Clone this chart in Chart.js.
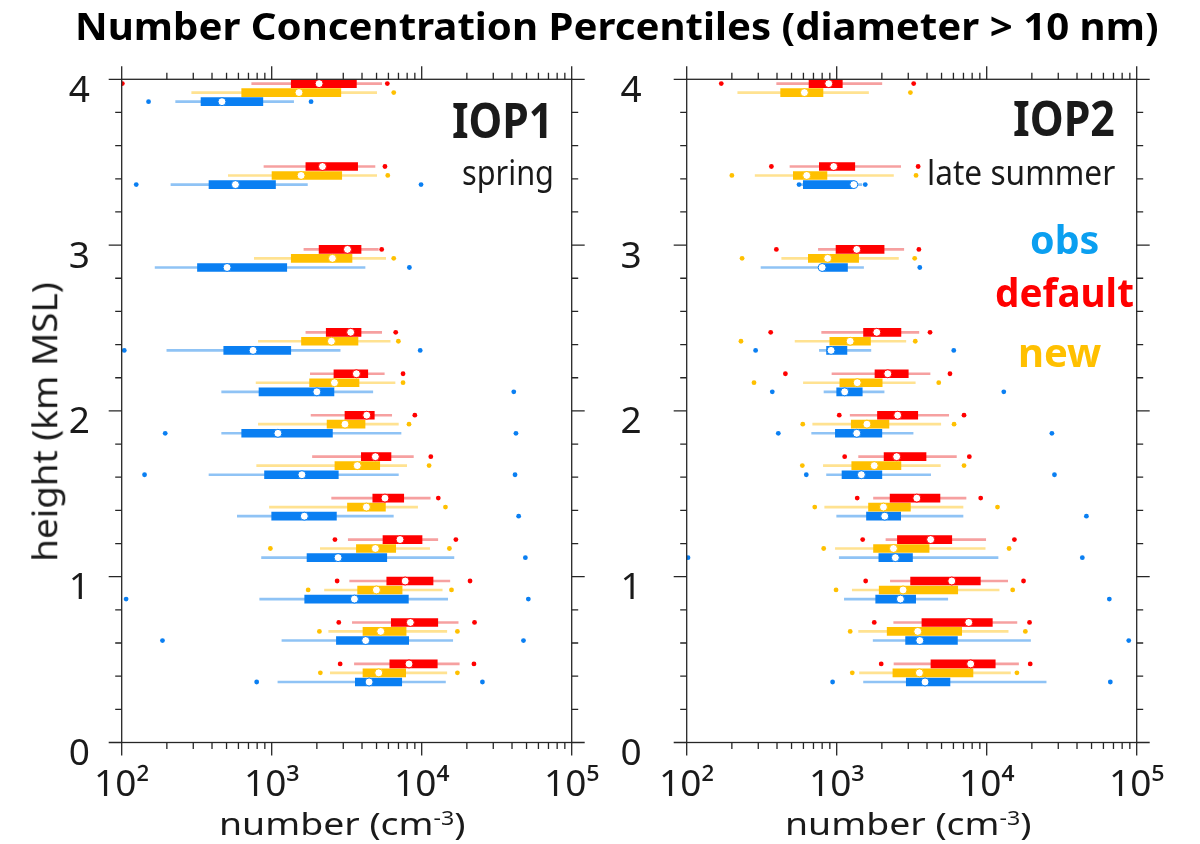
<!DOCTYPE html>
<html>
<head>
<meta charset="utf-8">
<script src="https://cdn.jsdelivr.net/npm/chart.js@4.4.1/dist/chart.umd.min.js"></script>
<style>
  body { margin: 0; background: #fff; width: 1200px; height: 844px; position: relative; overflow: hidden; font-family: "Noto Sans", sans-serif; color: #1a1a1a; }
  canvas { position: absolute; top: 0; }
  .lbl { position: absolute; white-space: nowrap; line-height: 1; transform-origin: 0 0; }
  .lbl sup { font-size: 0.62em; vertical-align: baseline; position: relative; top: -0.55em; }
</style>
</head>
<body>
<canvas id="iop1" width="600" height="844" style="left:0"></canvas>
<canvas id="iop2" width="600" height="844" style="left:600px"></canvas>
<script>
// height levels (km MSL), bottom to top
const levels = [0.42, 0.67, 0.92, 1.17, 1.42, 1.67, 1.92, 2.17, 2.42, 2.92, 3.42, 3.92];

// each row: [low dot, whisker lo, box lo, median, box hi, whisker hi, high dot]  (cm^-3)
const iop1Default = [
  [2860, 3560, 6130, 8230, 12700, 17800, 22300],
  [2800, 3450, 6270, 8400, 12800, 17500, 22500],
  [2730, 3310, 5850, 7760, 11900, 15400, 21000],
  [2640, 3240, 5520, 7170, 10050, 12800, 16900],
  [null, 2510, 4720, 5690, 7590, 11400, 12900],
  [null, 1870, 3960, 4910, 6240, 8800, 11500],
  [null, 1830, 3080, 4300, 4830, 6310, 9000],
  [null, 1810, 2600, 3670, 4370, 5630, 7510],
  [null, 1690, 2310, 3360, 3940, 5410, 6710],
  [null, 1640, 2070, 3200, 3940, 5140, 5410],
  [null, 888, 1690, 2180, 3740, 4880, 5690],
  [101, 736, 1350, 2070, 3670, 5410, 5900]
];
const iop1New = [
  [2110, 2460, 4060, 5170, 7820, 14700, 17300],
  [2080, 2400, 4060, 5330, 7870, 14700, 17300],
  [1750, 2250, 3740, 4990, 7400, 13700, 15800],
  [980, 2110, 3670, 4910, 6710, 11300, 15300],
  [null, 966, 3200, 4280, 5730, 9390, 14400],
  [null, 794, 2640, 3720, 5250, 7940, 11200],
  [null, 815, 2340, 3080, 4190, 6990, 8230],
  [null, 787, 1790, 2620, 3820, 6640, 7510],
  [null, 815, 1580, 2500, 3760, 6160, 6990],
  [null, 766, 1350, 2540, 3430, 5750, 6510],
  [null, 514, 1005, 1570, 2930, 5010, 5940],
  [null, 293, 631, 1520, 2890, 5010, 6510]
];
const iop1Obs = [
  [794, 1100, 3610, 4460, 7360, 14400, 25400],
  [187, 1170, 2700, 4230, 8190, 16100, 47700],
  [107, 832, 1660, 3560, 8150, 14900, 51400],
  [null, 856, 1720, 2770, 5850, 16400, 49100],
  [null, 590, 1000, 1650, 2700, 6470, 44300],
  [142, 382, 896, 1590, 2780, 6990, 41900],
  [195, 464, 631, 1100, 2540, 7280, 42500],
  [null, 464, 823, 2000, 2600, 4720, 41100],
  [104, 200, 479, 751, 1340, 2860, 9770],
  [null, 167, 320, 504, 1260, 4190, 8280],
  [125, 213, 382, 573, 1060, 1730, 9900],
  [151, 229, 338, 466, 873, 1400, 1830]
];
const iop2Default = [
  [1980, 2410, 4250, 7820, 11400, 16300, 19500],
  [1780, 2400, 3700, 7590, 10900, 15900, 19300],
  [1560, 2280, 3110, 5850, 9070, 13800, 17600],
  [1490, 2130, 2540, 4230, 5850, 9850, 15300],
  [1370, 1760, 2270, 3420, 4880, 7280, 9120],
  [1130, 1400, 2070, 2510, 3940, 6280, 7660],
  [1040, 1230, 1870, 2550, 3470, 5580, 7060],
  [455, 930, 1800, 2190, 3000, 4190, 5690],
  [363, 794, 1510, 1850, 2680, 3530, 4190],
  [396, 755, 990, 1360, 2070, 2800, 3530],
  [367, 488, 766, 955, 1320, 2670, 3490],
  [170, 398, 654, 885, 1090, 2000, 3260]
];
const iop2New = [
  [1270, 1420, 2370, 3560, 8100, 14400, 15900],
  [1230, 1400, 2170, 3470, 6810, 13900, 18100],
  [990, 1270, 1920, 2770, 6410, 12100, 14900],
  [819, 980, 1760, 2390, 4130, 9770, 14100],
  [714, 832, 1630, 2050, 3100, 6950, 11800],
  [590, 815, 1260, 1780, 2680, 4910, 7060],
  [594, 692, 1250, 1590, 2230, 4940, 6060],
  [281, 600, 1050, 1370, 2010, 3340, 4790],
  [230, 528, 900, 1230, 1680, 2890, 3340],
  [234, 430, 647, 871, 1400, 2580, 3310],
  [200, 286, 514, 631, 861, 2390, 3380],
  [null, 219, 423, 609, 810, 1630, 3100]
];
const iop2Obs = [
  [939, 1510, 2910, 3880, 5690, 24900, 66700],
  [null, 1750, 2880, 3580, 6380, 19600, 88500],
  [null, 1125, 1820, 2660, 3360, 5500, 65700],
  [102, 1040, 1910, 2460, 3200, 11900, 43400],
  [null, 1000, 1580, 2090, 2670, 6950, 46200],
  [627, 856, 1085, 1460, 2000, 4230, 28300],
  [408, 681, 980, 1360, 2000, 3230, 27200],
  [372, 823, 1000, 1130, 1480, 2070, 13000],
  [288, 766, 856, 917, 1170, 1690, 6030],
  [null, 313, 794, 800, 1180, 1510, 3580],
  [561, 572, 599, 1300, 1300, 1470, 1550],
  [null, null, null, null, null, null, null]
];

const xTickValues = [1e2, 1e3, 1e4, 1e5];
const xTickLabels = ['10²', '10³', '10⁴', '10⁵'];
const yTickValues = [0, 1, 2, 3, 4];

// drawing style per series (red on top, blue at the bottom of each level)
const styles = [
  { shift: 0.054, color: '#ff0000', pale: '#f6a0a0' },
  { shift: 0, color: '#ffc000', pale: '#ffe291' },
  { shift: -0.055, color: '#0a7ff2', pale: '#8fc3f5' }
];

Chart.defaults.font.family = '"Noto Sans", sans-serif';
Chart.defaults.color = '#1a1a1a';

function buildDatasets(seriesRows) {
  const out = [];
  seriesRows.forEach((rows, si) => {
    const s = styles[si];
    const pts = col => rows.map((r, i) => r[col] == null ? null : { x: r[col], y: levels[i] + s.shift }).filter(Boolean);
    const bars = (a, b) => rows.map((r, i) => r[a] == null ? null : { x: [r[a], r[b]], y: levels[i] + s.shift }).filter(Boolean);
    out.push({ type: 'bar', indexAxis: 'y', grouped: false, data: bars(1, 5), backgroundColor: s.pale, barThickness: 2, order: 4 });
    out.push({ type: 'bar', indexAxis: 'y', grouped: false, data: bars(2, 4), backgroundColor: s.color, barThickness: 8, order: 3 });
    out.push({ type: 'scatter', data: pts(0).concat(pts(6)), pointRadius: 2.4, backgroundColor: s.color, borderWidth: 0, order: 2 });
    out.push({ type: 'scatter', data: pts(3), pointRadius: 4, backgroundColor: '#ffffff', borderColor: s.color, borderWidth: 1, order: 1 });
  });
  return out;
}

// box frame with outward ticks on all four sides
const frameTicks = {
  id: 'frameTicks',
  afterDraw(chart) {
    const { ctx, chartArea: a, scales: { x, y } } = chart;
    ctx.save();
    ctx.strokeStyle = '#262626';
    ctx.lineWidth = 1.3;
    ctx.strokeRect(a.left, a.top, a.right - a.left, a.bottom - a.top);
    ctx.beginPath();
    for (let e = 2; e < 5; e++) {
      for (let m = 1; m <= 10; m++) {
        const px = x.getPixelForValue(m * Math.pow(10, e));
        const len = (m === 1 || m === 10) ? 13 : 6.5;
        ctx.moveTo(px, a.bottom); ctx.lineTo(px, a.bottom + len);
        ctx.moveTo(px, a.top); ctx.lineTo(px, a.top - len);
      }
    }
    for (let k = 0; k <= 20; k++) {
      const py = y.getPixelForValue(k / 5);
      const len = k % 5 === 0 ? 13 : 6.5;
      ctx.moveTo(a.left, py); ctx.lineTo(a.left - len, py);
      ctx.moveTo(a.right, py); ctx.lineTo(a.right + len, py);
    }
    ctx.stroke();
    ctx.restore();
  }
};

function makePanel(id, seriesRows, geom) {
  new Chart(document.getElementById(id), {
    type: 'scatter',
    data: { datasets: buildDatasets(seriesRows) },
    options: {
      responsive: false,
      animation: false,
      layout: { padding: { top: 79.3, right: 600 - geom.right, left: 0, bottom: 0 } },
      plugins: { legend: { display: false }, tooltip: { enabled: false } },
      scales: {
        x: {
          type: 'logarithmic', min: 100, max: 100000, offset: false,
          afterBuildTicks: s => { s.ticks = xTickValues.map(v => ({ value: v })); },
          afterFit: s => { s.height = 844 - 742.5; s.paddingLeft = 0; s.paddingRight = 0; },
          grid: { display: false, drawTicks: false, offset: false },
          border: { display: false },
          ticks: { font: { size: 37 }, padding: 21, maxRotation: 0, autoSkip: false,
                   callback: (v, i) => xTickLabels[i] }
        },
        y: {
          type: 'linear', min: 0, max: 4, offset: false,
          afterBuildTicks: s => { s.ticks = yTickValues.map(v => ({ value: v })); },
          afterFit: s => { s.width = geom.left; s.paddingTop = 0; s.paddingBottom = 0; },
          grid: { display: false, drawTicks: false, offset: false },
          border: { display: false },
          ticks: { font: { size: 37 }, padding: geom.labelGap, labelOffset: 12, autoSkip: false }
        }
      }
    },
    plugins: [frameTicks]
  });
}

makePanel('iop1', [iop1Default, iop1New, iop1Obs], { left: 121.7, right: 571.7, labelGap: 31.7 });
makePanel('iop2', [iop2Default, iop2New, iop2Obs], { left: 86.7, right: 536.7, labelGap: 45 });

// text placed by baseline, stretched to the measured width
const texts = [
  { html: 'Number Concentration Percentiles (diameter &gt; 10 nm)', left: 75, right: 1158, base: 40, size: 37, bold: true, color: '#000' },
  { html: 'IOP1', left: 452, right: 553, base: 138.3, size: 49, bold: true },
  { html: 'spring', left: 462, right: 554, base: 185, size: 34 },
  { html: 'IOP2', left: 1013, right: 1115, base: 136.7, size: 48, bold: true },
  { html: 'late summer', left: 927, right: 1115, base: 185, size: 34 },
  { html: 'obs', left: 1030, right: 1099, base: 255, size: 40, bold: true, color: '#0b9ff0' },
  { html: 'default', left: 995, right: 1134, base: 308, size: 40, bold: true, color: '#ff0000' },
  { html: 'new', left: 1018, right: 1101, base: 368, size: 40, bold: true, color: '#ffc000' },
  { html: 'number (cm<sup>-3</sup>)', left: 219, right: 465, base: 836, size: 31 },
  { html: 'number (cm<sup>-3</sup>)', left: 785, right: 1031, base: 836, size: 31 }
];
const placed = texts.map(t => {
  const el = document.createElement('div');
  el.className = 'lbl';
  el.innerHTML = t.html;
  el.style.fontSize = t.size + 'px';
  el.style.fontWeight = t.bold ? '700' : '400';
  if (t.color) el.style.color = t.color;
  el.style.left = t.left + 'px';
  el.style.top = (t.base - 0.888 * t.size) + 'px';
  document.body.appendChild(el);
  return [el, t];
});
const yTitle = document.createElement('div');
yTitle.className = 'lbl';
yTitle.textContent = 'height (km MSL)';
yTitle.style.fontSize = '34px';
yTitle.style.transformOrigin = '50% 50%';
document.body.appendChild(yTitle);

function fitTexts() {
  placed.forEach(([el, t]) => {
    el.style.transform = 'scaleX(' + ((t.right - t.left) / el.offsetWidth) + ')';
  });
  const w = yTitle.offsetWidth;
  yTitle.style.left = (44 - w / 2) + 'px';
  yTitle.style.top = (422 - 17) + 'px';
  yTitle.style.transform = 'rotate(-90deg) scaleX(' + (280 / w) + ')';
}
fitTexts();
if (document.fonts) document.fonts.ready.then(fitTexts);
</script>
</body>
</html>
